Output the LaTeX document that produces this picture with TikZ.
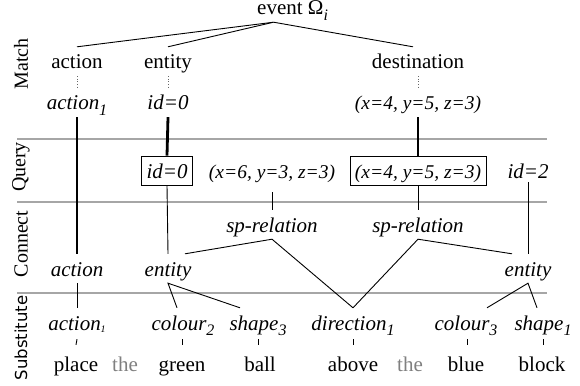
\documentclass[tikz,border=0pt]{standalone}
\usepackage{fontspec}
\setmainfont{Liberation Serif}
\newfontfamily\subsfont{DejaVu Sans}
\newcommand\lsub[1]{\raisebox{-0.28em}{\fontsize{16}{16}\selectfont #1}}
\newcommand\tinysub[1]{\raisebox{-0.1em}{\fontsize{10}{10}\selectfont #1}}
\tikzset{
  lbl/.style={anchor=base, text height=20pt, text depth=5pt, inner ysep=2pt, inner xsep=5pt, font=\fontsize{21}{24}\selectfont},
  itl/.style={lbl, font=\fontsize{21}{24}\selectfont\itshape},
  tup/.style={lbl, font=\fontsize{19.5}{22}\selectfont\itshape},
  boxed/.style={draw, line width=0.8pt},
  side/.style={rotate=90, inner sep=0pt, font=\fontsize{20}{24}\selectfont},
  rule/.style={draw=black!35, line width=1.1pt},
  thin/.style={draw=black, line width=0.9pt},
  thick/.style={draw=black, line width=2.8pt},
  dots/.style={draw=black!60, line width=0.6pt, dotted},
  grey/.style={text=black!50}
}
\begin{document}
\begin{tikzpicture}[x=1pt,y=-1pt]
\useasboundingbox (0,0) rectangle (580,385);
\fill[white] (0,0) rectangle (580,385);

% rules
\draw[rule] (17,139) -- (547,139);
\draw[rule] (17,202) -- (547,202);
\draw[rule] (17,293) -- (547,293);

% side labels
\node[side] (lm) at (21,64) {Match};
\node[side] (lq) at (21,167) {Query};
\node[side] (lc) at (21,244) {Connect};
\node[side, font=\fontsize{16.5}{20}\subsfont] (ls) at (21,338) {Substitute};

% event
\node[lbl, anchor=base west, inner xsep=0pt] (ev) at (257,15) {event Ω\lsub{\textit{i}}};
\coordinate (apex) at ([xshift=-19pt]ev.south);

% match row
\node[lbl] (mA) at (77,69) {action};
\node[lbl] (mE) at (168,69) {entity};
\node[lbl] (mD) at (418,69) {destination};

% values
\node[itl] (vA) at (77,110) {action\lsub{1}};
\node[itl] (vE) at (168,110) {id=0};
\node[tup] (vD) at (418,110) {(x=4, y=5, z=3)};

% query
\node[itl, boxed] (qE) at (167,178) {id=0};
\node[tup] (q6) at (272,178) {(x=6, y=3, z=3)};
\node[tup, boxed] (qD) at (418,178) {(x=4, y=5, z=3)};
\node[itl] (q2) at (528,178) {id=2};

% sp relations
\node[itl] (s1) at (272,232) {sp-relation};
\node[itl] (s2) at (418,232) {sp-relation};

% connect row
\node[itl] (cA) at (77,276) {action};
\node[itl] (cE) at (168,276) {entity};
\node[itl] (cE2) at (528,276) {entity};

% substitute row
\node[itl] (tA) at (77,330) {action\tinysub{1}};
\node[itl] (tC2) at (183,330) {colour\lsub{2}};
\node[itl] (tS3) at (258,330) {shape\lsub{3}};
\node[itl] (tD) at (353,330) {direction\lsub{1}};
\node[itl] (tC3) at (466,330) {colour\lsub{3}};
\node[itl] (tS1) at (543,330) {shape\lsub{1}};

% words
\node[lbl] (w1) at (76,371) {place};
\node[lbl, grey] (w2) at (125,371) {the};
\node[lbl] (w3) at (182,371) {green};
\node[lbl] (w4) at (260,371) {ball};
\node[lbl] (w5) at (353,371) {above};
\node[lbl, grey] (w6) at (410,371) {the};
\node[lbl] (w7) at (466,371) {blue};
\node[lbl] (w8) at (542,371) {block};

% event links
\draw[thin] (apex) -- (mA.north);
\draw[thin] (apex) -- (mE.north);
\draw[thin] (apex) -- ([xshift=-5pt]mD.north);

% dotted
\draw[dots] (mA.south) -- (vA.north);
\draw[dots] (mE.south) -- (vE.north);
\draw[dots] (mD.south) -- (vD.north);

% thick
\draw[thick] (vA.south) -- (cA.north);
\draw[thick] (vE.south) -- (qE.north);
\draw[thick] (vD.south) -- (qD.north);

% thin verticals
\draw[thin] (qE.south) -- (cE.north);
\draw[thin] (qD.south) -- (s2.north);
\draw[thin] ([yshift=-7pt]q6.south) -- (s1.north);
\draw[thin] ([yshift=3pt]q2.south) -- (cE2.north);

% sp relation links
\draw[thin] ([xshift=17pt]cE.north) -- (s1.south) -- (tD.north);
\draw[thin] ([xshift=-16pt]cE2.north) -- (s2.south) -- (tD.north);

% entity to attributes
\draw[thin] ([xshift=-6pt]tC2.north) -- (cE.south) -- ([xshift=-18pt]tS3.north);
\draw[thin] ([xshift=21pt]tC3.north) -- (cE2.south) -- ([xshift=-6pt]tS1.north);
\draw[thin] (cA.south) -- (tA.north);

% ticks
\draw[thin] ([yshift=-2pt]tA.south) -- ([yshift=4pt]w1.north);
\draw[thin] ([xshift=-1pt,yshift=-2pt]tC2.south) -- ([yshift=4pt]w3.north);
\draw[thin] ([yshift=-2pt]tS3.south) -- ([xshift=-2pt,yshift=4pt]w4.north);
\draw[thin] ([yshift=-2pt]tD.south) -- ([yshift=4pt]w5.north);
\draw[thin] ([xshift=1pt,yshift=-2pt]tC3.south) -- ([xshift=1pt,yshift=4pt]w7.north);
\draw[thin] ([yshift=-2pt]tS1.south) -- ([xshift=1pt,yshift=4pt]w8.north);
\end{tikzpicture}
\end{document}
